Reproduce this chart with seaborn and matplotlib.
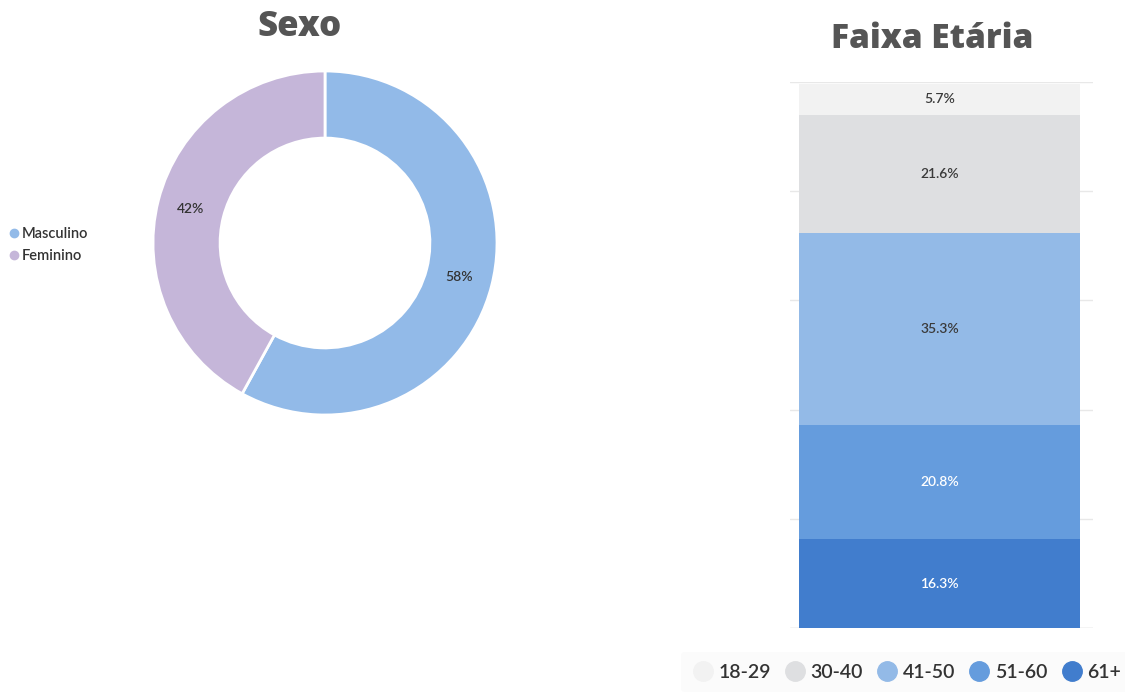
import numpy as np
import pandas as pd
import seaborn as sns
import matplotlib
matplotlib.use('Agg')
import matplotlib.pyplot as plt
from matplotlib.lines import Line2D

# data
sexo_labels = ['Masculino', 'Feminino']
sexo_pct = [58, 42]
sexo_colors = ['#92BAE8', '#C5B6D9']

faixa_labels = ['18-29', '30-40', '41-50', '51-60', '61+']
faixa_pct = [5.7, 21.6, 35.3, 20.8, 16.3]
faixa_colors = ['#F2F2F2', '#DEDFE1', '#93BAE7', '#659CDD', '#417DCD']
faixa_text = ['#3a3a3a', '#3a3a3a', '#3a3a3a', 'white', 'white']

sns.set_style('white')
plt.rcParams['font.family'] = ['Lato', 'DejaVu Sans']

fig = plt.figure(figsize=(11.25, 6.94), dpi=100)
W, H = 1125, 694

# donut chart (sexo)
cx, cy, r = 325, 243, 172
ax1 = fig.add_axes([(cx - r) / W, 1 - (cy + r) / H, 2 * r / W, 2 * r / H])
wedges, _ = ax1.pie(sexo_pct, colors=sexo_colors, startangle=90, counterclock=False,
                    radius=1, wedgeprops=dict(width=0.39, edgecolor='white', linewidth=2))
ang = 90.0
for w, p in zip(wedges, sexo_pct):
    mid = np.deg2rad(ang - p * 3.6 / 2)
    ax1.text(0.805 * np.cos(mid), 0.805 * np.sin(mid), f'{p}%', ha='center', va='center',
             fontsize=10, color='#333333', fontweight='semibold')
    ang -= p * 3.6
ax1.set_xlim(-1, 1)
ax1.set_ylim(-1, 1)
title_font = dict(family=['Open Sans', 'DejaVu Sans'], fontweight=800, color='#555555')
fig.text(300 / W, 1 - 27 / H, 'Sexo', ha='center', va='center', fontsize=25, **title_font)

handles = [Line2D([], [], marker='o', ls='', markersize=6, color=c) for c in sexo_colors]
fig.legend(handles, sexo_labels, loc='center left', bbox_to_anchor=(-0.006, 1 - 245 / H),
           frameon=False, handletextpad=0.05, labelspacing=0.55,
           handlelength=1.0, labelcolor='#333333', prop=dict(weight='semibold', size=10.5))

# stacked bar (faixa etaria)
ax2 = fig.add_axes([790 / W, 1 - 628 / H, 303 / W, 546 / H])
df = pd.DataFrame({'faixa': faixa_labels, 'pct': faixa_pct})
df['top'] = df['pct'][::-1].cumsum()[::-1]
df['x'] = 'Faixa'
for i in range(len(df)):
    sns.barplot(data=df.iloc[[i]], x='x', y='top', color=faixa_colors[i], width=0.9,
                saturation=1, ax=ax2, zorder=2 + i, linewidth=0)
for i, row in df.iterrows():
    ax2.text(0, row['top'] - row['pct'] / 2, f"{row['pct']}%", ha='center', va='center',
             fontsize=10, color=faixa_text[i], zorder=20, fontweight='semibold')
ax2.set_xlim(-0.479, 0.492)
ax2.set_ylim(0, 100)
ax2.set_yticks(np.arange(0, 101, 20))
ax2.yaxis.grid(True, color='#E8E8E8', linewidth=1, zorder=0)
ax2.set_axisbelow(True)
ax2.tick_params(left=False, bottom=False, labelleft=False, labelbottom=False)
ax2.set_xlabel('')
ax2.set_ylabel('')
for s in ax2.spines.values():
    s.set_visible(False)
ax2.axhline(0, color='#DDDDDD', linewidth=1, zorder=1)
fig.text(932 / W, 1 - 39 / H, 'Faixa Etária', ha='center', va='center', fontsize=24,
         **title_font)

handles2 = [Line2D([], [], marker='o', ls='', markersize=14, color=c) for c in faixa_colors]
leg = fig.legend(handles2, faixa_labels, loc='center', bbox_to_anchor=(907 / W, 1 - 672 / H),
                 ncol=5, frameon=True, handletextpad=0.3, columnspacing=0.75,
                 handlelength=1.0, labelcolor='#333333', borderpad=0.6,
                 prop=dict(weight='semibold', size=14))
leg.get_frame().set_facecolor('#FAFAFA')
leg.get_frame().set_edgecolor('none')

fig.savefig('out.png', dpi=100)
